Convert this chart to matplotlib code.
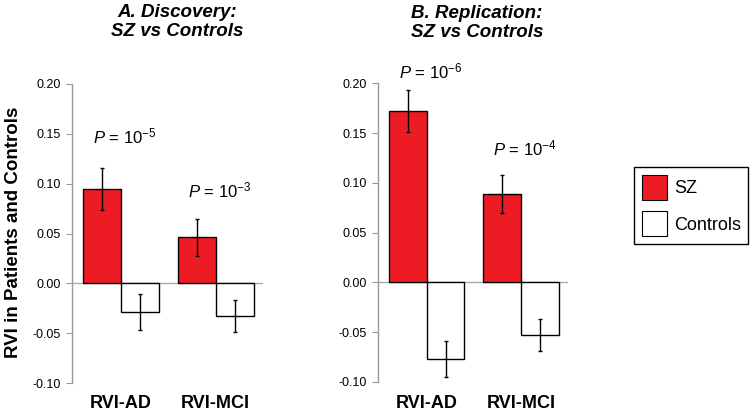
import numpy as np
import matplotlib
matplotlib.use('Agg')
import matplotlib.pyplot as plt
from matplotlib.patches import Patch

plt.rcParams['font.family'] = ['Liberation Sans', 'DejaVu Sans']
plt.rcParams['mathtext.fontset'] = 'custom'
plt.rcParams['mathtext.rm'] = 'Liberation Sans'
plt.rcParams['mathtext.it'] = 'Liberation Sans:italic'

categories = ['RVI-AD', 'RVI-MCI']
groups = ['SZ', 'Controls']

# panel A: discovery
disc_sz = [0.095, 0.046]
disc_sz_err = [0.021, 0.019]
disc_ctrl = [-0.029, -0.033]
disc_ctrl_err = [0.018, 0.016]
disc_p = ['-5', '-3']

# panel B: replication
rep_sz = [0.172, 0.089]
rep_sz_err = [0.021, 0.019]
rep_ctrl = [-0.077, -0.053]
rep_ctrl_err = [0.018, 0.016]
rep_p = ['-6', '-4']

yticks = [-0.10, -0.05, 0.00, 0.05, 0.10, 0.15, 0.20]

RED = '#ED1C24'


def draw_panel(ax, sz, sz_err, ctrl, ctrl_err, pvals, p_gap):
    x = np.arange(len(categories))
    w = 0.4
    ax.bar(x - w / 2, sz, w, color=RED, edgecolor='black', linewidth=1.0, zorder=2)
    ax.bar(x + w / 2, ctrl, w, color='white', edgecolor='black', linewidth=1.0, zorder=2)
    ax.errorbar(x - w / 2, sz, yerr=sz_err, fmt='none', ecolor='black',
                elinewidth=1.0, capsize=1.6, capthick=1.0, zorder=3)
    ax.errorbar(x + w / 2, ctrl, yerr=ctrl_err, fmt='none', ecolor='black',
                elinewidth=1.0, capsize=1.6, capthick=1.0, zorder=3)
    ax.axhline(0, color='#aaaaaa', linewidth=1.0, zorder=1)

    # p-value labels above the SZ bars
    tops = np.array(sz) + np.array(sz_err)
    for xi, top, p, g in zip(x, tops, pvals, p_gap):
        ax.text(xi + 0.04, top + g, r'$\it{P}$ = 10$^{' + p + '}$', ha='center',
                va='baseline', fontsize=12, clip_on=False)

    ax.set_xlim(-0.52, 1.5)
    ax.set_ylim(-0.10, 0.20)
    ax.set_yticks(yticks)
    ax.set_yticklabels(['%.2f' % v for v in yticks])
    ax.set_xticks(x)
    ax.set_xticklabels(categories, fontsize=13, fontweight='bold')
    ax.tick_params(axis='x', length=0, pad=9)
    ax.tick_params(axis='y', length=4, color='#999999', labelsize=9, pad=4)
    for s in ['top', 'right', 'bottom']:
        ax.spines[s].set_visible(False)
    ax.spines['left'].set_color('#999999')
    ax.spines['left'].set_linewidth(1.0)


fig = plt.figure(figsize=(7.54, 4.13), dpi=100)
axA = fig.add_axes([72 / 754, 1 - 383 / 413, 191 / 754, 299 / 413])
axB = fig.add_axes([377.7 / 754, 1 - 382 / 413, 190.3 / 754, 298.7 / 413])

draw_panel(axA, disc_sz, disc_sz_err, disc_ctrl, disc_ctrl_err, disc_p, [0.024, 0.021])
draw_panel(axB, rep_sz, rep_sz_err, rep_ctrl, rep_ctrl_err, rep_p, [0.012, 0.020])

fig.text(177 / 754, 1 - 22 / 413, 'A. Discovery:\nSZ vs Controls', ha='center',
         va='center', fontsize=13.5, fontweight='bold', style='italic',
         linespacing=1.15)
fig.text(477 / 754, 1 - 23 / 413, 'B. Replication:\nSZ vs Controls', ha='center',
         va='center', fontsize=13.5, fontweight='bold', style='italic',
         linespacing=1.15)

fig.text(14 / 754, 1 - 232 / 413, 'RVI in Patients and Controls', rotation=90,
         ha='center', va='center', fontsize=13.5, fontweight='bold')

handles = [Patch(facecolor=RED, edgecolor='black', linewidth=0.8, label='SZ'),
           Patch(facecolor='white', edgecolor='black', linewidth=0.8, label='Controls')]
leg = fig.legend(handles=handles, loc='upper left',
                 bbox_to_anchor=(634.3 / 754, 1 - 167.3 / 413), borderaxespad=0,
                 fontsize=13, handlelength=1.4, handleheight=1.8,
                 labelspacing=0.6, borderpad=0.4, handletextpad=0.4,
                 fancybox=False, edgecolor='black', framealpha=1)
leg.get_frame().set_linewidth(1.0)

fig.savefig('out.png', dpi=100)
